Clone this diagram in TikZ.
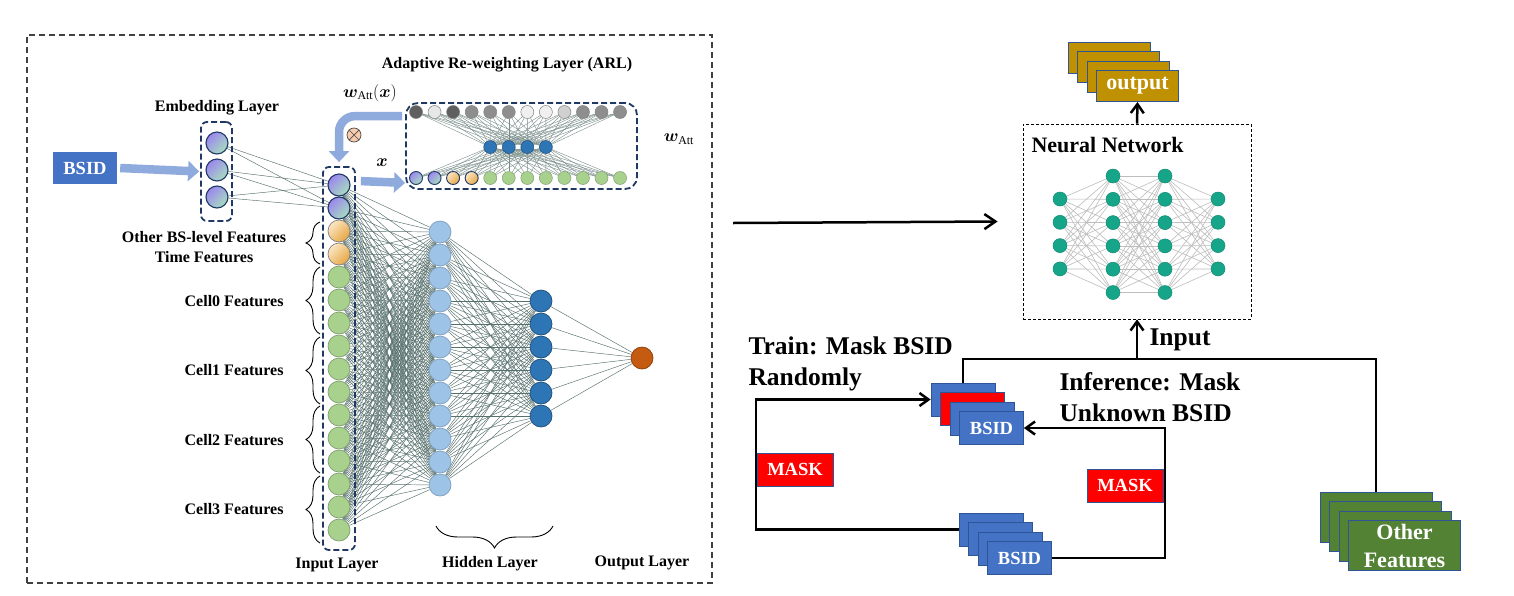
\documentclass[tikz,border=0pt]{standalone}
\usepackage{amsmath,bm}
\usepackage{fontspec}
\setmainfont{Liberation Serif}
\usetikzlibrary{arrows.meta,decorations.pathreplacing,backgrounds,calc}
\definecolor{navyD}{HTML}{1F3864}
\definecolor{lblue}{HTML}{8FAADC}
\definecolor{purA}{HTML}{9B87EE}
\definecolor{purB}{HTML}{A7DDBF}
\definecolor{oraA}{HTML}{FCE6C4}
\definecolor{oraB}{HTML}{E6A743}
\definecolor{grnA}{HTML}{A9D18E}
\definecolor{grnD}{HTML}{7F9F6F}
\definecolor{hidA}{HTML}{9DC3E6}
\definecolor{hidAD}{HTML}{7F9FBF}
\definecolor{hidB}{HTML}{2E75B6}
\definecolor{hidBD}{HTML}{1F4E79}
\definecolor{outC}{HTML}{C55A11}
\definecolor{outCD}{HTML}{8A3E0B}
\definecolor{edgeC}{HTML}{56706C}
\definecolor{gDark}{HTML}{5F5F5F}
\definecolor{gLight}{HTML}{E7E7E7}
\definecolor{gMid}{HTML}{8E8E8E}
\definecolor{gLtwo}{HTML}{F0F0F0}
\definecolor{gLthree}{HTML}{D0D0D0}
\definecolor{tealC}{HTML}{17A589}
\definecolor{tealD}{HTML}{0E8C73}
\definecolor{nnEdge}{HTML}{BDBDBD}
\definecolor{goldC}{HTML}{BF9000}
\definecolor{bordB}{HTML}{2F5597}
\definecolor{bsBlue}{HTML}{4472C4}
\definecolor{ofGreen}{HTML}{548235}
\definecolor{otFill}{HTML}{F8CBAD}
\definecolor{frameC}{HTML}{404040}
\begin{document}
\begin{tikzpicture}[x=1pt,y=-1pt,
  nn/.style={circle,inner sep=0pt,minimum size=22pt,line width=0.7pt},
  sm/.style={minimum size=13pt,line width=0.5pt},
  pur/.style={nn,draw=navyD,line width=1.1pt,top color=purA,bottom color=purB,shading angle=45},
  ora/.style={nn,draw=gray,top color=oraA,bottom color=oraB,shading angle=45},
  grn/.style={nn,draw=grnD,fill=grnA},
  hida/.style={nn,draw=hidAD,fill=hidA},
  hidb/.style={nn,draw=hidBD,fill=hidB},
  outn/.style={nn,draw=outCD,fill=outC},
  gcirc/.style={nn,sm,draw=gray},
  tnode/.style={circle,inner sep=0pt,minimum size=14pt,fill=tealC,draw=tealD,line width=0.5pt},
  edge/.style={draw=edgeC,line width=0.45pt},
  aedge/.style={draw=edgeC!80,line width=0.4pt},
  nedge/.style={draw=nnEdge,line width=0.6pt},
  dashbox/.style={draw=navyD,line width=1.8pt,dash pattern=on 6pt off 3pt,rounded corners=6pt,inner sep=0pt},
  bluearrow/.style={draw=lblue,line width=8.5pt,-{Triangle[length=11pt,width=20pt]}},
  lbl/.style={font=\bfseries\fontsize{16}{20}\selectfont},
  mathl/.style={font=\fontsize{17}{20}\selectfont},
  rlbl/.style={font=\bfseries\fontsize{25.5}{31}\selectfont},
  brace/.style={decorate,decoration={brace,amplitude=14pt},line width=0.9pt,draw=black},
  blk/.style={line width=2.5pt,draw=black},
  barb/.style={-{Straight Barb[length=9pt,width=13pt]}},
  ost/.style={rectangle,draw=bordB,line width=1pt,fill=goldC,minimum width=82pt,minimum height=31pt,inner sep=0pt,text=white,font=\bfseries\fontsize{22}{26}\selectfont},
  bst/.style={rectangle,draw=bordB,line width=0.8pt,fill=bsBlue,minimum width=64pt,minimum height=33pt,inner sep=0pt,text=white,font=\bfseries\fontsize{18.5}{22}\selectfont},
  ofst/.style={rectangle,draw=bordB,line width=0.8pt,fill=ofGreen,minimum width=112pt,minimum height=50pt,inner sep=0pt,text=white,align=center,font=\bfseries\fontsize{22}{28}\selectfont},
  maskb/.style={rectangle,draw=bordB,line width=0.6pt,fill=red,minimum width=76pt,minimum height=33pt,inner sep=0pt,text=white,font=\bfseries\fontsize{18.5}{22}\selectfont}
]
\useasboundingbox (0,0) rectangle (1514,595);

% ---------------- left panel ----------------
\node[rectangle,draw=frameC,line width=1.4pt,dash pattern=on 6pt off 4pt,minimum width=685pt,minimum height=548pt,inner sep=0pt] (frame) at (369.5,309) {};

\node[rectangle,fill=bsBlue,minimum width=64pt,minimum height=32pt,inner sep=0pt,text=white,font=\bfseries\fontsize{18.5}{22}\selectfont] (bsid) at (85,168) {BSID};

% embedding
\node[pur] (e1) at (217,143) {};
\node[pur] (e2) at (217,170) {};
\node[pur] (e3) at (217,197) {};
\node[dashbox,minimum width=31pt,minimum height=99pt] (embbox) at (216.5,171.5) {};
\node[lbl] (embl) at (217,108) {Embedding Layer};

% input layer
\foreach \k in {1,2} \node[pur] (i\k) at (339,{185+23*(\k-1)}) {};
\foreach \k in {3,4} \node[ora] (i\k) at (339,{185+23*(\k-1)}) {};
\foreach \k in {5,...,16} \node[grn] (i\k) at (339,{185+23*(\k-1)}) {};
\node[dashbox,minimum width=32pt,minimum height=383pt] (inbox) at (339,358.5) {};

% hidden layers and output
\foreach \k in {1,...,12} \node[hida] (h\k) at (440,{232+23*(\k-1)}) {};
\foreach \k in {1,...,6} \node[hidb] (g\k) at (541,{301+23*(\k-1)}) {};
\node[outn] (o) at (642,358) {};

% ARL
\foreach \k/\c in {1/gDark,2/gLight,3/gDark,4/gMid,5/gMid,6/gMid,7/gLtwo,8/gLtwo,9/gLthree,10/gMid,11/gMid,12/gMid}
  \node[gcirc,fill=\c] (t\k) at ({416+18.55*(\k-1)},112) {};
\foreach \k in {1,...,4} \node[hidb,sm,draw=hidBD] (m\k) at ({490.2+18.55*(\k-1)},147) {};
\foreach \k in {1,2} \node[pur,sm,line width=0.9pt] (b\k) at ({416+18.55*(\k-1)},178) {};
\foreach \k in {3,4} \node[ora,sm,draw=navyD,line width=0.9pt] (b\k) at ({416+18.55*(\k-1)},178) {};
\foreach \k in {5,...,12} \node[grn,sm] (b\k) at ({416+18.55*(\k-1)},178) {};
\node[dashbox,minimum width=231pt,minimum height=86pt,rounded corners=12pt] (arl) at (521.5,146) {};

\node[lbl] (arll) at (507,65) {Adaptive Re-weighting Layer (ARL)};
\node[mathl] (wax) at (370,93) {$\bm{w}_{\mathrm{Att}}(\bm{x})$};
\node[mathl] (wa) at (679,139) {$\bm{w}_{\mathrm{Att}}$};
\node[mathl] (xl) at (382,163) {$\bm{x}$};

% otimes
\node[circle,draw=black!70,fill=otFill,line width=0.7pt,minimum size=14pt,inner sep=0pt] (ot) at (354,135) {};
\draw[black!70,line width=0.7pt] (ot.north west) -- (ot.south east) (ot.north east) -- (ot.south west);

% light blue arrows
\draw[bluearrow] ([xshift=3pt]bsid.east) -- ([xshift=-1pt]embbox.west);
\draw[bluearrow] ([xshift=5pt,yshift=-15pt]inbox.north east) -- ([yshift=7pt]arl.south west);
\draw[bluearrow,rounded corners=16pt] ([xshift=-3pt,yshift=-14pt]arl.north west) -| ([yshift=4pt]inbox.north);

% braces and labels
\draw[brace] (320,264) -- (320,222);
\draw[brace] (320,334) -- (320,267);
\draw[brace] (320,404) -- (320,337);
\draw[brace] (320,473) -- (320,406);
\draw[brace] (320,543) -- (320,476);
\node[lbl,align=center] (obs) at (204,247) {Other BS-level Features\\Time Features};
\node[lbl,anchor=east] (c0) at (287,301) {Cell0 Features};
\node[lbl,anchor=east] (c1) at (287,370) {Cell1 Features};
\node[lbl,anchor=east] (c2) at (287,440) {Cell2 Features};
\node[lbl,anchor=east] (c3) at (287,509) {Cell3 Features};
\draw[decorate,decoration={brace,amplitude=22pt},line width=0.9pt] (553,526) -- (436,526);
\node[lbl] (inl) at (337,565) {Input Layer};
\node[lbl] (hidl) at (490,564) {Hidden Layer};
\node[lbl] (outl) at (642,563) {Output Layer};

% ---------------- right panel ----------------
\node[rectangle,draw=black,line width=0.8pt,dash pattern=on 3pt off 2pt,minimum width=228pt,minimum height=195pt,inner sep=0pt] (nnbox) at (1137,221.5) {};
\node[font=\bfseries\fontsize{22}{26}\selectfont,anchor=west] (nnl) at (1028,145) {Neural Network};
\foreach \k in {1,...,4} \node[tnode] (na\k) at (1060,{199+23.3*(\k-1)}) {};
\foreach \k in {1,...,6} \node[tnode] (nb\k) at (1113,{176+23.3*(\k-1)}) {};
\foreach \k in {1,...,6} \node[tnode] (nc\k) at (1165,{176+23.3*(\k-1)}) {};
\foreach \k in {1,...,4} \node[tnode] (nd\k) at (1218,{199+23.3*(\k-1)}) {};

\foreach \k in {0,1,2} \node[ost] (out\k) at ({1109+9.5*\k},{57.5+9.5*\k}) {};
\node[ost] (out3) at (1137.5,86) {output};

\node[bst] (bsA1) at (963,399.5) {};
\node[bst,fill=red] (bsA2) at (972.5,409) {};
\node[bst] (bsA3) at (982,418.5) {};
\node[bst] (bsA4) at (991.5,428) {BSID};

\node[bst] (bsB1) at (991,529.5) {};
\node[bst] (bsB2) at (1000.5,539) {};
\node[bst] (bsB3) at (1010,548.5) {};
\node[bst] (bsB4) at (1019.5,558) {BSID};

\node[ofst] (of1) at (1376,517) {};
\node[ofst] (of2) at (1385.5,526.5) {};
\node[ofst] (of3) at (1395,536) {};
\node[ofst] (of4) at (1404.5,545.5) {Other\\Features};

\coordinate (jn) at (1137,359);
\coordinate (bigS) at (733,223);

% loops (lines first, mask boxes on top)
\draw[blk,barb] (bsB1.west) -| (756,469.5) |- (bsA1.west);
\draw[blk,barb] (bsB4.east) -| (1165,485.5) |- (bsA4.east);
\node[maskb] (maskL) at (795,469.5) {MASK};
\node[maskb] (maskR) at (1125,485.5) {MASK};

\draw[blk] (bsA1.north) |- (jn) -| (of1.north);
\draw[blk,barb] (jn) -- (nnbox.south);
\draw[blk,barb] (nnbox.north) -- (out3.south);
\draw[blk,-{Straight Barb[length=11pt,width=15pt]}] (bigS) -- ($(nnbox.west)+(-25,0)$);

\node[rlbl,align=left,anchor=west] (trainl) at (745,364) {Train: Mask BSID\\Randomly};
\node[rlbl,align=left,anchor=west] (infl) at (1056,397.5) {Inference: Mask\\Unknown BSID};
\node[rlbl,anchor=west] (inputl) at (1146,340) {Input};

% ---------------- connectors (background) ----------------
\begin{scope}[on background layer]
\fill[white] (0,0) rectangle (1514,595);
\foreach \a in {1,2,3} {\foreach \b in {1,2} {\draw[edge] (e\a) -- (i\b);}}
\foreach \a in {1,...,16} {\foreach \b in {1,...,12} {\draw[edge] (i\a) -- (h\b);}}
\foreach \a in {1,...,12} {\foreach \b in {1,...,6} {\draw[edge] (h\a) -- (g\b);}}
\foreach \a in {1,...,6} {\draw[edge] (g\a) -- (o);}
\foreach \a in {1,...,12} {\foreach \b in {1,...,4} {\draw[aedge] (t\a) -- (m\b); \draw[aedge] (m\b) -- (b\a);}}
\foreach \a in {1,...,4} {\foreach \b in {1,...,6} {\draw[nedge] (na\a) -- (nb\b);}}
\foreach \a in {1,...,6} {\foreach \b in {1,...,6} {\draw[nedge] (nb\a) -- (nc\b);}}
\foreach \a in {1,...,6} {\foreach \b in {1,...,4} {\draw[nedge] (nc\a) -- (nd\b);}}
\end{scope}
\end{tikzpicture}
\end{document}
